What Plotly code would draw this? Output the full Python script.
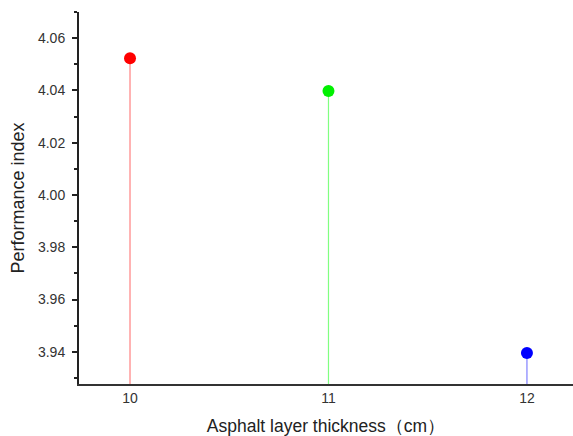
import plotly.graph_objects as go

thickness = [10, 11, 12]
performance = [4.0523, 4.0398, 3.9396]
marker_colors = ["#FF0000", "#00F000", "#0000FF"]
stem_colors = ["#FF8080", "#80FF80", "#8080FF"]
y_ticks = [3.94, 3.96, 3.98, 4.00, 4.02, 4.04, 4.06]

Y_MIN, Y_MAX = 3.9277, 4.070
X_MIN, X_MAX = 9.743, 12.232

fig = go.Figure()
for x, y, mc, sc in zip(thickness, performance, marker_colors, stem_colors):
    fig.add_trace(go.Scatter(x=[x, x], y=[Y_MIN, y], mode="lines",
                             line=dict(color=sc, width=1.2), hoverinfo="skip"))
    fig.add_trace(go.Scatter(x=[x], y=[y], mode="markers",
                             marker=dict(color=mc, size=12, line=dict(width=0))))

fig.update_layout(
    width=573, height=436,
    margin=dict(l=79, r=0, t=12, b=52, autoexpand=False),
    paper_bgcolor="white", plot_bgcolor="white",
    showlegend=False,
    font=dict(family="Liberation Sans, Arial, sans-serif", color="#222"),
)
fig.update_xaxes(
    range=[X_MIN, X_MAX], tickvals=thickness, ticktext=[str(t) for t in thickness],
    showgrid=False, zeroline=False, showline=True, linecolor="#333", linewidth=2,
    ticks="", tickfont=dict(size=14, color="#333"), automargin=False,
    title=dict(text="Asphalt layer thickness（cm）", font=dict(size=17.5, color="#222"), standoff=17),
)
fig.update_yaxes(
    range=[Y_MIN, Y_MAX], tickvals=y_ticks, ticktext=[f"{v:.2f}" for v in y_ticks],
    showgrid=False, zeroline=False, showline=True, linecolor="#222", linewidth=2,
    ticks="outside", ticklen=5, tickwidth=1.5, tickcolor="#222", automargin=False,
    ticklabelstandoff=4,
    minor=dict(ticks="outside", ticklen=3, tickwidth=1.5, tickcolor="#222", dtick=0.01, tick0=3.93),
    tickfont=dict(size=14, color="#333"),
    title=dict(text="Performance index", font=dict(size=18, color="#222"), standoff=9),
)

fig.write_html("out.html", config={"displayModeBar": False},
               post_script="document.body.style.margin='0';document.body.style.overflow='hidden';")
